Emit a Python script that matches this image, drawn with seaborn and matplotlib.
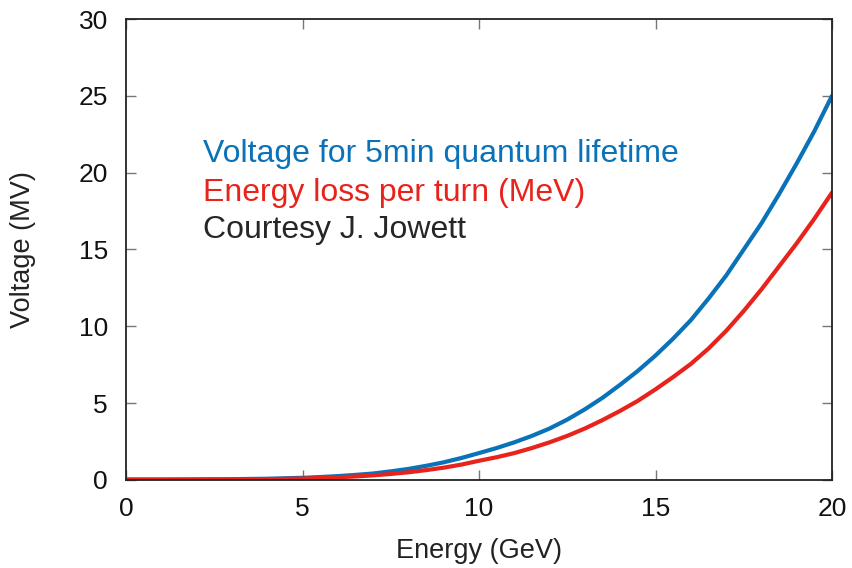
import pandas as pd
import seaborn as sns
import matplotlib
matplotlib.use("Agg")
import matplotlib.pyplot as plt

# values
energy = [0, 1, 2, 3, 4, 5, 5.5, 6, 6.5, 7, 7.5, 8, 8.5, 9, 9.5, 10, 10.5, 11, 11.5,
          12, 12.5, 13, 13.5, 14, 14.5, 15, 15.5, 16, 16.5, 17, 17.5, 18, 18.5,
          19, 19.5, 20]
voltage_lifetime = [0.03, 0.03, 0.04, 0.05, 0.08, 0.14, 0.19, 0.25, 0.33, 0.42, 0.56,
                    0.72, 0.92, 1.15, 1.43, 1.75, 2.08, 2.45, 2.87, 3.35, 3.93, 4.6,
                    5.35, 6.2, 7.1, 8.1, 9.2, 10.4, 11.8, 13.3, 15.0, 16.7, 18.6,
                    20.6, 22.7, 25.0]
energy_loss = [0.02, 0.02, 0.02, 0.03, 0.05, 0.09, 0.13, 0.17, 0.23, 0.3, 0.39,
               0.5, 0.64, 0.8, 1.0, 1.25, 1.48, 1.75, 2.08, 2.45, 2.87, 3.35,
               3.9, 4.5, 5.15, 5.9, 6.7, 7.55, 8.55, 9.7, 11.0, 12.4, 13.9,
               15.4, 17.0, 18.7]

series_names = ["Voltage for 5min quantum lifetime", "Energy loss per turn (MeV)"]
note_text = "Courtesy J. Jowett"
x_ticks = [0, 5, 10, 15, 20]
y_ticks = [0, 5, 10, 15, 20, 25, 30]

BLUE = "#0a72b8"
RED = "#e8231b"

sns.set_theme(style="ticks")
plt.rcParams['font.family'] = ['Liberation Sans', 'DejaVu Sans']

df = pd.DataFrame({
    "Energy (GeV)": energy * 2,
    "Voltage (MV)": voltage_lifetime + energy_loss,
    "Curve": [series_names[0]] * len(energy) + [series_names[1]] * len(energy),
})

fig = plt.figure(figsize=(8.52, 5.68), dpi=100)
ax = fig.add_axes([0.148, 0.155, 0.8285, 0.8115])

sns.lineplot(data=df, x="Energy (GeV)", y="Voltage (MV)", hue="Curve",
             palette=[BLUE, RED], linewidth=3, legend=False, ax=ax)
for ln in ax.lines:
    ln.set_solid_joinstyle("round")
    ln.set_solid_capstyle("round")

ax.set_xlim(0, 20)
ax.set_ylim(0, 30)
ax.set_xticks(x_ticks)
ax.set_yticks(y_ticks)
ax.tick_params(direction="in", length=7, width=1, color="#777777",
               top=True, right=True, labelsize=19, labelcolor="#111111")
ax.tick_params(axis="x", pad=12)
ax.tick_params(axis="y", pad=13)
for s in ax.spines.values():
    s.set_color("#222222")
    s.set_linewidth(1.3)
ax.set_xlabel("Energy (GeV)", fontsize=19.5, color="#222222")
ax.set_ylabel("Voltage (MV)", fontsize=19.5, color="#222222")
ax.xaxis.set_label_coords(0.5, -0.125)
ax.yaxis.set_label_coords(-0.127, 0.5)

ax.text(0.109, 0.690, series_names[0], color=BLUE, fontsize=23,
        transform=ax.transAxes, va="baseline")
ax.text(0.109, 0.606, series_names[1], color=RED, fontsize=23,
        transform=ax.transAxes, va="baseline")
ax.text(0.109, 0.524, note_text, color="#262626", fontsize=23,
        transform=ax.transAxes, va="baseline")

fig.savefig("out.png", dpi=100)
